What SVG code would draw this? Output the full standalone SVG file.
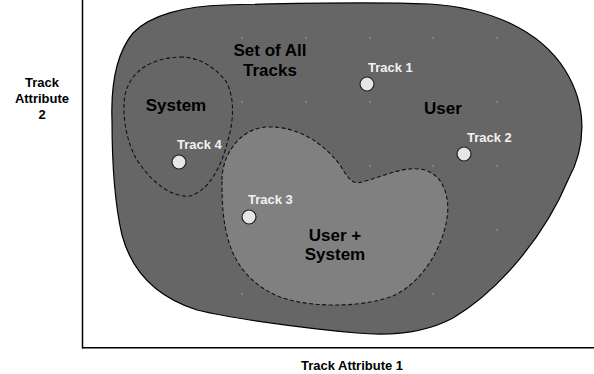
<svg xmlns="http://www.w3.org/2000/svg" width="594" height="374" viewBox="0 0 594 374">
<style>
.lbl{font-family:"Liberation Sans",Arial,sans-serif;font-weight:bold;font-size:17px;fill:#000;text-anchor:middle}
.axis{font-family:"Liberation Sans",Arial,sans-serif;font-weight:bold;font-size:13px;fill:#000;text-anchor:middle}
.trk{font-family:"Liberation Sans",Arial,sans-serif;font-weight:bold;font-size:13px;fill:#f2f2f2}
.pt{fill:#e6e6e6;stroke:#222;stroke-width:1.2}
.dash{fill:none;stroke:#111;stroke-width:1.1;stroke-dasharray:4,2.5}
.dot{fill:#d8d8d8}
</style>
<rect width="594" height="374" fill="#fff"/>
<g id="all-tracks">
<path d="M112,120 C111,90 115,55 133,33 C150,15 185,6 225,5 C300,3 380,2 430,4 C490,8 540,30 565,70 C587,105 587,145 568,180 C545,235 500,290 453,318 C425,333 390,336 357,333 C300,328 230,318 197,310 C150,295 130,265 122,235 C115,205 112,160 112,120 Z" fill="#666666" stroke="#000" stroke-width="1.2"/>
<g>
<rect class="dot" x="241.5" y="37.5" width="1" height="1"/><rect class="dot" x="305.5" y="37.5" width="1" height="1"/><rect class="dot" x="369.5" y="37.5" width="1" height="1"/><rect class="dot" x="432.5" y="37.5" width="1" height="1"/><rect class="dot" x="496.5" y="37.5" width="1" height="1"/>
<rect class="dot" x="241.5" y="101.5" width="1" height="1"/><rect class="dot" x="305.5" y="101.5" width="1" height="1"/><rect class="dot" x="369.5" y="101.5" width="1" height="1"/><rect class="dot" x="432.5" y="101.5" width="1" height="1"/><rect class="dot" x="496.5" y="101.5" width="1" height="1"/>
<rect class="dot" x="369.5" y="165.5" width="1" height="1"/><rect class="dot" x="432.5" y="165.5" width="1" height="1"/><rect class="dot" x="496.5" y="165.5" width="1" height="1"/>
<rect class="dot" x="496.5" y="229.5" width="1" height="1"/>
<rect class="dot" x="241.5" y="293.5" width="1" height="1"/><rect class="dot" x="432.5" y="293.5" width="1" height="1"/>
</g>
<text class="lbl" x="270" y="56">Set of All</text>
<text class="lbl" x="270" y="76">Tracks</text>
<text class="lbl" x="443" y="114">User</text>
</g>
<g id="user-system">
<path d="M222,180 C222,155 240,128 267,127 C300,126 325,145 340,165 C348,178 352,185 362,182 C385,176 405,165 425,170 C445,176 450,200 447,218 C443,245 425,280 395,295 C365,308 310,308 280,297 C250,285 233,262 227,235 C222,215 222,195 222,180 Z" fill="#808080"/>
<path class="dash" d="M222,180 C222,155 240,128 267,127 C300,126 325,145 340,165 C348,178 352,185 362,182 C385,176 405,165 425,170 C445,176 450,200 447,218 C443,245 425,280 395,295 C365,308 310,308 280,297 C250,285 233,262 227,235 C222,215 222,195 222,180 Z"/>
<text class="lbl" x="335" y="241">User +</text>
<text class="lbl" x="335" y="260">System</text>
</g>
<g id="system">
<path class="dash" d="M180,57 C200,57 215,68 225,80 C235,95 234,120 228,140 C222,165 210,190 190,196 C170,198 150,180 137,160 C125,140 122,110 125,95 C130,72 150,58 180,57 Z"/>
<text class="lbl" x="176" y="111">System</text>
</g>
<g id="track1"><circle class="pt" cx="367" cy="84" r="7"/><text class="trk" x="368" y="72">Track 1</text></g>
<g id="track2"><circle class="pt" cx="464" cy="154" r="7"/><text class="trk" x="467" y="142">Track 2</text></g>
<g id="track3"><circle class="pt" cx="249" cy="217" r="7"/><text class="trk" x="248" y="204">Track 3</text></g>
<g id="track4"><circle class="pt" cx="179" cy="162" r="7"/><text class="trk" x="177" y="149">Track 4</text></g>
<g id="axes">
<line x1="82.5" y1="0" x2="82.5" y2="348.5" stroke="#000" stroke-width="1.5"/>
<line x1="82" y1="347.8" x2="594" y2="347.8" stroke="#000" stroke-width="1.6"/>
<text class="axis" x="352" y="370">Track Attribute 1</text>
<text class="axis" x="42" y="87">Track</text>
<text class="axis" x="42" y="103">Attribute</text>
<text class="axis" x="42" y="119">2</text>
</g>
<g id="connectors"/>
</svg>
